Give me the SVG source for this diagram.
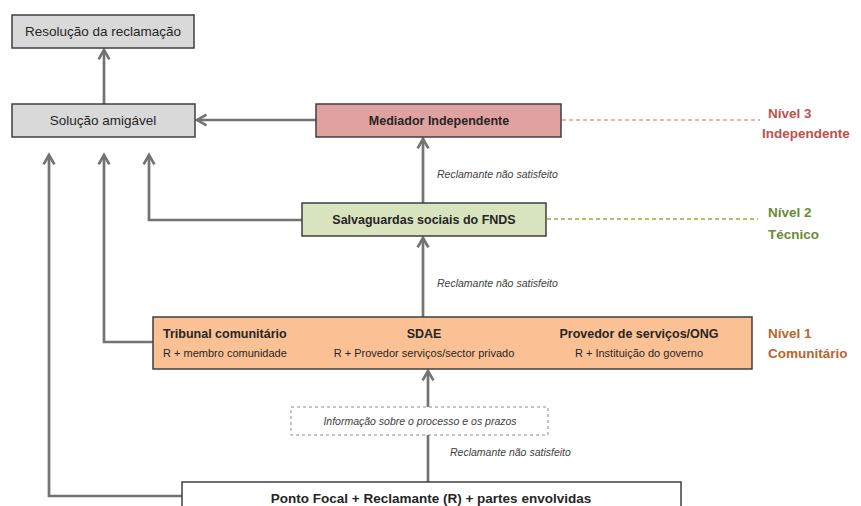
<svg xmlns="http://www.w3.org/2000/svg" width="861" height="506" viewBox="0 0 861 506">
  <style>
    .box { stroke: #3f3f3f; stroke-width: 1.5; }
    .gray { fill: #d9d9d9; }
    .pink { fill: #e0a1a1; }
    .green { fill: #d7e4bd; }
    .orange { fill: #fbc194; }
    .white { fill: #ffffff; }
    .t { font-family: "Liberation Sans", Arial, sans-serif; fill: #262626; }
    .b { font-weight: bold; }
    .it { font-family: "Liberation Sans", Arial, sans-serif; font-style: italic; font-size: 10.5px; fill: #404040; }
    .conn { fill: none; stroke: #737373; stroke-width: 2.7; }
    .lvl { font-family: "Liberation Sans", Arial, sans-serif; font-size: 13.5px; font-weight: bold; }
  </style>
  <defs>
    <marker id="arrow" viewBox="0 0 10 10" refX="8" refY="5" markerWidth="5" markerHeight="5" orient="auto" markerUnits="strokeWidth">
      <path d="M1,1 L8,5 L1,9" fill="none" stroke="#737373" stroke-width="2" stroke-linejoin="miter"/>
    </marker>
  </defs>
  <rect width="861" height="506" fill="#ffffff"/>

  <!-- connectors -->
  <g id="connectors">
    <path class="conn" d="M104,104 V50" marker-end="url(#arrow)"/>
    <path class="conn" d="M316,120 H197" marker-end="url(#arrow)"/>
    <path class="conn" d="M423,203 V139" marker-end="url(#arrow)"/>
    <path class="conn" d="M423,317 V238" marker-end="url(#arrow)"/>
    <path class="conn" d="M428,482 V371" marker-end="url(#arrow)"/>
    <path class="conn" d="M302,220 H149 V155" marker-end="url(#arrow)"/>
    <path class="conn" d="M153,342 H104 V155" marker-end="url(#arrow)"/>
    <path class="conn" d="M182,496 H49 V155" marker-end="url(#arrow)"/>
    <path d="M562,120 H760" stroke="#e8b2b2" stroke-width="2" stroke-dasharray="4,3" fill="none"/>
    <path d="M547,219 H758" stroke="#a9c46e" stroke-width="2" stroke-dasharray="4,3" fill="none"/>
  </g>

  <!-- connector labels -->
  <text class="it" x="437" y="178">Reclamante não satisfeito</text>
  <text class="it" x="437" y="287">Reclamante não satisfeito</text>
  <text class="it" x="450" y="456">Reclamante não satisfeito</text>

  <g id="resolucao">
    <rect class="box gray" x="12" y="15" width="182" height="33"/>
    <text class="t" x="103" y="36" font-size="13.5" text-anchor="middle">Resolução da reclamação</text>
  </g>

  <g id="solucao">
    <rect class="box gray" x="12" y="104" width="183" height="33"/>
    <text class="t" x="103" y="125" font-size="13.5" text-anchor="middle">Solução amigável</text>
  </g>

  <g id="mediador">
    <rect class="box pink" x="316" y="104" width="245" height="33"/>
    <text class="t b" x="439" y="125" font-size="12.5" text-anchor="middle">Mediador Independente</text>
  </g>

  <g id="salvaguardas">
    <rect class="box green" x="302" y="203" width="244" height="33"/>
    <text class="t b" x="424" y="224" font-size="12.5" text-anchor="middle">Salvaguardas sociais do FNDS</text>
  </g>

  <g id="comunitario">
    <rect class="box orange" x="153" y="317" width="599" height="52"/>
    <text class="t b" x="163" y="338" font-size="12.5">Tribunal comunitário</text>
    <text class="t" x="163" y="357" font-size="11">R + membro comunidade</text>
    <text class="t b" x="424" y="338" font-size="12.5" text-anchor="middle">SDAE</text>
    <text class="t" x="424" y="357" font-size="11" text-anchor="middle">R + Provedor serviços/sector privado</text>
    <text class="t b" x="639" y="338" font-size="12.5" text-anchor="middle">Provedor de serviços/ONG</text>
    <text class="t" x="639" y="357" font-size="11" text-anchor="middle">R + Instituição do governo</text>
  </g>

  <g id="informacao">
    <rect x="291" y="407" width="257" height="28" fill="#ffffff" stroke="#8c8c8c" stroke-width="1" stroke-dasharray="3,3"/>
    <text class="it" x="420" y="425" text-anchor="middle">Informação sobre o processo e os prazos</text>
  </g>

  <g id="ponto-focal">
    <rect class="box white" x="182" y="482" width="499" height="30"/>
    <text class="t b" x="431" y="503" font-size="13.5" text-anchor="middle">Ponto Focal  + Reclamante (R) + partes envolvidas</text>
  </g>

  <g id="niveis">
    <text class="lvl" x="768" y="118" fill="#c0504d">Nível 3</text>
    <text class="lvl" x="762" y="138" fill="#c0504d">Independente</text>
    <text class="lvl" x="768" y="217" fill="#6a8a33">Nível 2</text>
    <text class="lvl" x="768" y="239" fill="#6a8a33">Técnico</text>
    <text class="lvl" x="768" y="338" fill="#b8652f">Nível 1</text>
    <text class="lvl" x="768" y="358" fill="#b8652f">Comunitário</text>
  </g>
</svg>
